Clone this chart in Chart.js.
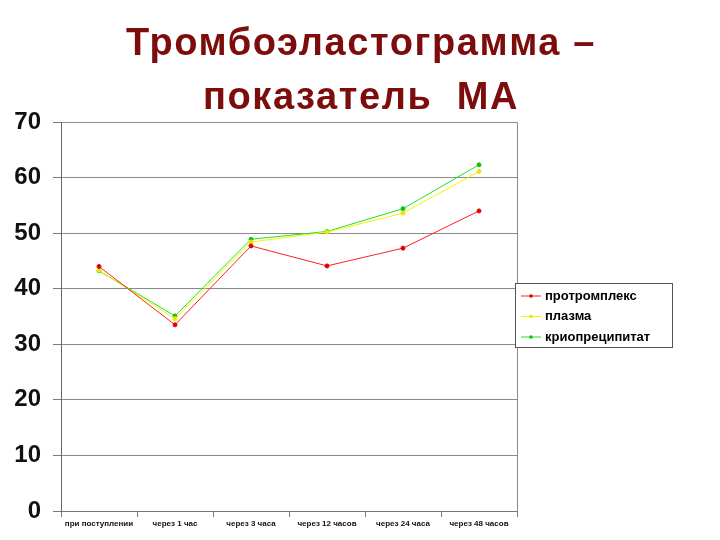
<!DOCTYPE html>
<html>
<head>
<meta charset="utf-8">
<script src="https://cdn.jsdelivr.net/npm/chart.js@4/dist/chart.umd.min.js"></script>
<style>
html,body{margin:0;padding:0;background:#fff;}
#wrap{width:720px;height:540px;position:relative;}
</style>
</head>
<body>
<div id="wrap"><canvas id="c" width="720" height="540"></canvas></div>
<script>
const categories = ['при поступлении','через 1 час','через 3 часа','через 12 часов','через 24 часа','через 48 часов'];
const seriesNames = ['протромплекс','плазма','криопреципитат'];
const protromplex = [44.0, 33.5, 47.7, 44.1, 47.3, 54.0];
const plazma = [43.3, 34.6, 48.4, 50.2, 53.6, 61.1];
const krio = [43.2, 35.1, 48.9, 50.3, 54.4, 62.3];
const yTicks = [0,10,20,30,40,50,60,70];
const titleLines = ['Тромбоэластограмма –','показатель  МА'];

const FONT = '"Liberation Sans", Arial, sans-serif';

const frame = {
  id:'frame',
  afterDraw(chart){
    const ctx = chart.ctx, a = chart.chartArea;
    ctx.save();
    ctx.fillStyle = '#7d0c0c';
    ctx.font = 'bold 38px ' + FONT;
    try { ctx.letterSpacing = '1.6px'; } catch(e) {}
    ctx.textAlign = 'center';
    ctx.textBaseline = 'alphabetic';
    const baselines = [55, 109];
    titleLines.forEach((t, i) => ctx.fillText(t, 361, baselines[i]));
    try { ctx.letterSpacing = '0px'; } catch(e) {}
    ctx.textAlign = 'left';
    ctx.strokeStyle = '#8a8a8a'; ctx.lineWidth = 1;
    ctx.beginPath();
    ctx.moveTo(Math.round(a.left)+0.5, Math.round(a.top)+0.5);
    ctx.lineTo(Math.round(a.right)+0.5, Math.round(a.top)+0.5);
    ctx.lineTo(Math.round(a.right)+0.5, Math.round(a.bottom)+0.5);
    ctx.stroke();
    const x0 = 515, y0 = 283, w = 157, h = 64;
    ctx.fillStyle = '#fff';
    ctx.fillRect(x0, y0, w, h);
    ctx.strokeStyle = '#555'; ctx.lineWidth = 1;
    ctx.strokeRect(x0+0.5, y0+0.5, w, h);
    ctx.font = 'bold 13px ' + FONT;
    ctx.textBaseline = 'middle';
    chart.data.datasets.forEach((ds, i) => {
      const yy = y0 + 13 + i*20.5;
      ctx.strokeStyle = ds.borderColor; ctx.lineWidth = 1;
      ctx.beginPath(); ctx.moveTo(x0+6, yy); ctx.lineTo(x0+26, yy); ctx.stroke();
      ctx.fillStyle = ds.pointBackgroundColor;
      ctx.beginPath(); ctx.arc(x0+16, yy, 1.8, 0, Math.PI*2); ctx.fill();
      ctx.fillStyle = '#000';
      ctx.fillText(ds.label, x0+30, yy);
    });
    ctx.restore();
  }
};

new Chart(document.getElementById('c'), {
  type:'line',
  data:{
    labels: categories,
    datasets:[
      {label: seriesNames[0], data: protromplex, borderColor:'#ff2020', pointBackgroundColor:'#e00000', pointBorderColor:'#e00000', borderWidth:1, pointRadius:2, tension:0},
      {label: seriesNames[1], data: plazma, borderColor:'#f4f400', pointBackgroundColor:'#e8e800', pointBorderColor:'#e8e800', borderWidth:1, pointRadius:2, tension:0},
      {label: seriesNames[2], data: krio, borderColor:'#22e022', pointBackgroundColor:'#10c010', pointBorderColor:'#10c010', borderWidth:1, pointRadius:2, tension:0}
    ]
  },
  options:{
    responsive:false,
    animation:false,
    layout:{padding:{left:0,right:203,top:122,bottom:0}},
    plugins:{
      legend:{display:false},
      tooltip:{enabled:false},
      title:{display:false}
    },
    scales:{
      x:{
        offset:true,
        grid:{display:true, drawOnChartArea:false, offset:true, tickLength:6, color:'#777'},
        border:{display:true, color:'#777'},
        ticks:{font:{family:FONT, size:8, weight:'bold'}, color:'#111', maxRotation:0, autoSkip:false, padding:2},
        afterFit(s){ s.height = 29; }
      },
      y:{
        min:0, max:70,
        afterBuildTicks(s){ s.ticks = yTicks.map(v=>({value:v})); },
        grid:{color:'#8a8a8a', tickLength:8, tickColor:'#777'},
        border:{display:true, color:'#666'},
        ticks:{font:{family:FONT, size:24, weight:'bold'}, color:'#111', padding:12},
        afterFit(s){ s.width = 61; }
      }
    }
  },
  plugins:[frame]
});
</script>
</body>
</html>
